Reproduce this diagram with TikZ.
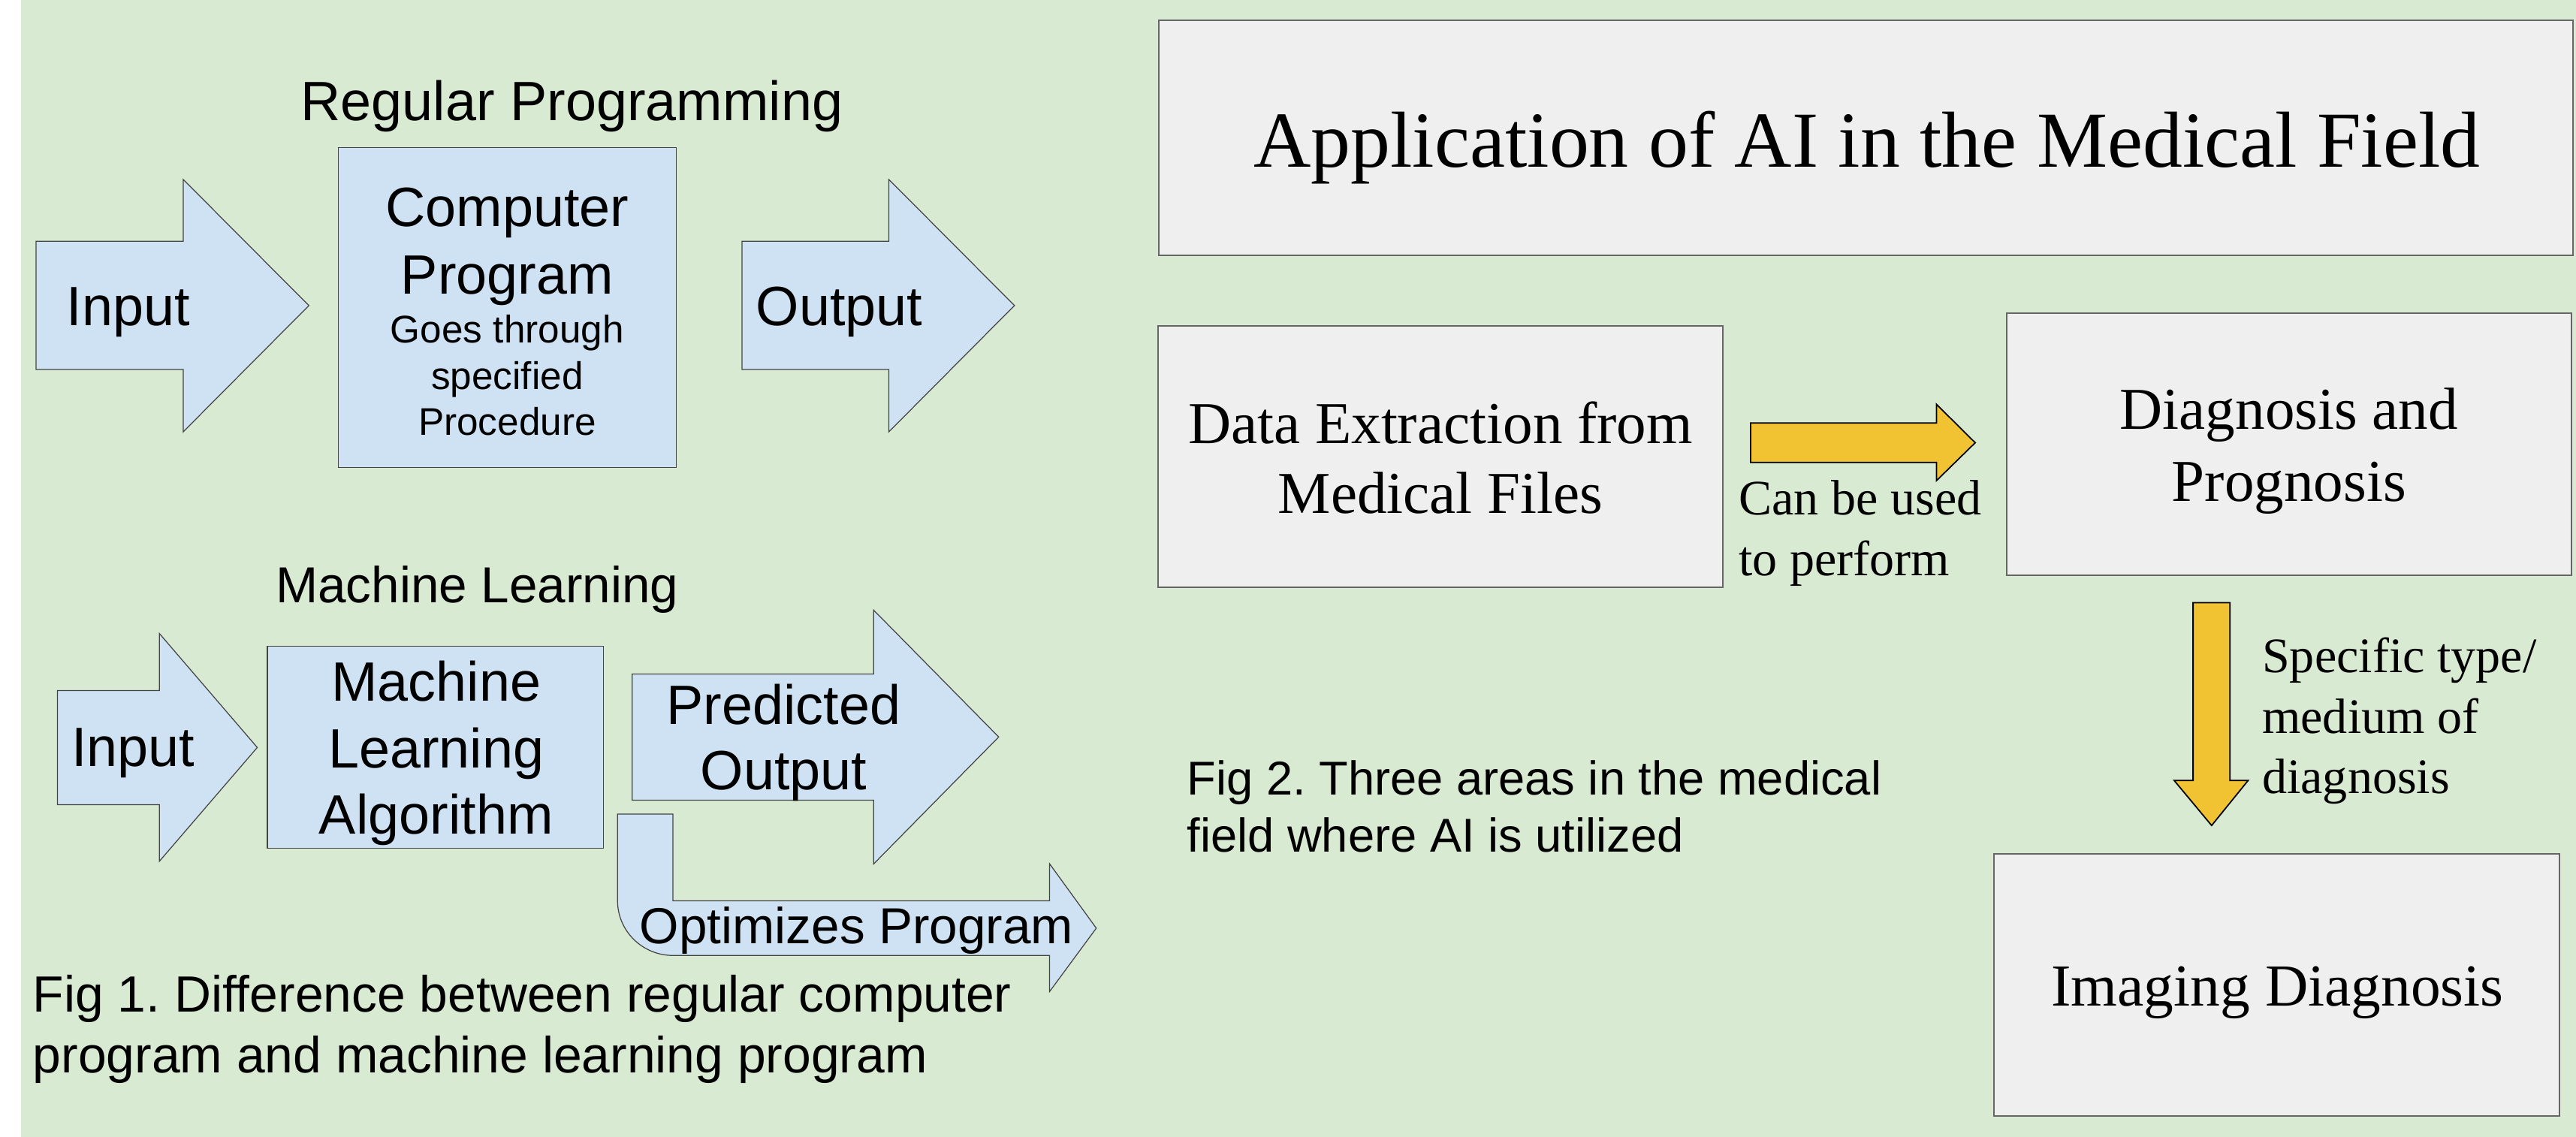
\documentclass[tikz,border=0pt]{standalone}
\usepackage{fontspec}
\setmainfont{Liberation Serif}
\newfontfamily\sansfam{Liberation Sans}
\frenchspacing

\definecolor{pagegreen}{HTML}{D9EAD3}
\definecolor{shapeblue}{HTML}{CFE2F3}
\definecolor{shapeline}{HTML}{434343}
\definecolor{boxgrey}{HTML}{EFEFEF}
\definecolor{boxline}{HTML}{666666}
\definecolor{arrowyellow}{HTML}{F1C232}

\newcommand\fsz[2]{\fontsize{#1}{#2}\selectfont}

\tikzset{
  blueshape/.style={fill=shapeblue, draw=shapeline, line width=0.35pt, line join=miter},
  bluebox/.style={rectangle, blueshape, inner sep=0pt},
  greybox/.style={rectangle, fill=boxgrey, draw=boxline, line width=0.6pt, inner sep=0pt},
  yellowarrow/.style={fill=arrowyellow, draw=black, line width=0.5pt, line join=miter},
  label/.style={inner sep=0pt, text=black},
  sanslabel/.style={label, font=\sansfam\fsz{21}{25}},
}

\begin{document}
\begin{tikzpicture}[x=0.021875cm, y=-0.021875cm]
  \useasboundingbox (0,0) rectangle (1568,692);
  % page: thin white margin on the left, green sheet elsewhere
  \fill[white] (0,0) rectangle (1568,692);
  \fill[pagegreen] (12.8,0) rectangle (1568,692);

  % ---------- Fig 1: regular programming ----------
  \node[sanslabel, anchor=base] (rptitle) at (348.1,73.5) {Regular Programming};

  \draw[blueshape] (21.9,146.9) -- (111.5,146.9) -- (111.5,109.2) -- (188,186)
    -- (111.5,262.9) -- (111.5,224.9) -- (21.9,224.9) -- cycle;
  \node[sanslabel, anchor=base] (rpin) at (78,198) {Input};

  \node[bluebox, minimum width={205.5*0.021875cm}, minimum height={194.7*0.021875cm}]
    (cp) at (308.75,187.35) {};
  \node[label, align=center, font=\sansfam\fsz{21}{25.5}] (cptext) at (308.75,150)
    {Computer\\Program};
  \node[label, align=center, font=\sansfam\fsz{14.6}{17.5}] (cpsub) at (308.75,228.5)
    {Goes through\\specified\\Procedure};

  \draw[blueshape] (451.7,146.9) -- (541,146.9) -- (541,109.2) -- (617.5,186)
    -- (541,262.9) -- (541,224.9) -- (451.7,224.9) -- cycle;
  \node[sanslabel, anchor=base] (rpout) at (510.8,198) {Output};

  % ---------- Fig 1: machine learning ----------
  \node[label, anchor=base, font=\sansfam\fsz{19.2}{23}] (mltitle) at (290.4,367)
    {Machine Learning};

  \draw[blueshape] (35,420.3) -- (97,420.3) -- (97,385.6) -- (156.6,455)
    -- (97,524.3) -- (97,489.8) -- (35,489.8) -- cycle;
  \node[sanslabel, anchor=base] (mlin) at (81.1,466.4) {Input};

  \node[bluebox, minimum width={204.6*0.021875cm}, minimum height={123.1*0.021875cm}]
    (mlbox) at (265,454.95) {};
  \node[label, align=center, font=\sansfam\fsz{21}{25.3}] (mltext) at (265.5,458.5)
    {Machine\\Learning\\Algorithm};

  \draw[blueshape] (384.8,410.3) -- (531.8,410.3) -- (531.8,371.4) -- (607.9,448.6)
    -- (531.8,525.9) -- (531.8,487.1) -- (384.8,487.1) -- cycle;
  \node[label, align=center, font=\sansfam\fsz{21}{24.7}] (mlout) at (477,452)
    {Predicted\\Output};

  % bent arrow: down from the algorithm, then right
  \draw[blueshape] (375.9,495.5) -- (409.6,495.5) -- (409.6,548.3) -- (638.8,548.3)
    -- (638.8,525.7) -- (667.3,565) -- (638.8,603.7) -- (638.8,581.6) -- (409.6,581.6)
    .. controls (391,581.6) and (375.9,566.7) .. (375.9,548.3) -- cycle;
  \node[label, anchor=base, font=\sansfam\fsz{19.2}{23}] (mlopt) at (521.4,574.2)
    {Optimizes Program};

  \node[label, anchor=west, align=left, font=\sansfam\fsz{19.3}{23.3}] (figone)
    at (19.7,626.5)
    {Fig 1. Difference between regular computer\\program and machine learning program};

  % ---------- Fig 2: AI in medicine ----------
  \node[greybox, minimum width={860.8*0.021875cm}, minimum height={143.2*0.021875cm}]
    (titlebox) at (1135.8,84) {};
  \node[label, anchor=base, font=\fsz{30.1}{36}] (titletext) at (1136.4,101.9)
    {Application of AI in the Medical Field};

  \node[greybox, minimum width={343.8*0.021875cm}, minimum height={159.2*0.021875cm}]
    (data) at (876.8,277.9) {};
  \node[label, align=center, font=\fsz{22.5}{26.5}] (datatext) at (876.8,278.5)
    {Data Extraction from\\Medical Files};

  \node[greybox, minimum width={343.9*0.021875cm}, minimum height={159.6*0.021875cm}]
    (diag) at (1393.35,270.3) {};
  \node[label, align=center, font=\fsz{22.5}{27.3}] (diagtext) at (1393.3,274.75)
    {Diagnosis and\\Prognosis};

  \node[greybox, minimum width={344.2*0.021875cm}, minimum height={159.4*0.021875cm}]
    (imaging) at (1385.7,599.6) {};
  \node[label, anchor=base, font=\fsz{22.6}{27}] (imagingtext) at (1386.3,612.3)
    {Imaging Diagnosis};

  \draw[yellowarrow] (1065.6,257.5) -- (1178.7,257.5) -- (1178.7,246.1) -- (1202.3,269.5)
    -- (1178.7,292.6) -- (1178.7,281.5) -- (1065.6,281.5) -- cycle;
  \node[label, anchor=west, align=left, font=\fsz{18.8}{23}] (usedtext) at (1058.2,324.5)
    {Can be used\\to perform};

  \draw[yellowarrow] (1334.9,366.9) -- (1357.4,366.9) -- (1357.4,475.1) -- (1368.4,475.1)
    -- (1346.2,502.5) -- (1323.4,475.1) -- (1334.9,475.1) -- cycle;
  \node[label, anchor=west, align=left, font=\fsz{18.8}{22.8}] (typetext) at (1376.7,438.8)
    {Specific type/\\medium of\\diagnosis};

  \node[label, anchor=west, align=left, font=\sansfam\fsz{18}{21.7}] (figtwo)
    at (722.3,491)
    {Fig 2. Three areas in the medical\\field where AI is utilized};
\end{tikzpicture}
\end{document}
